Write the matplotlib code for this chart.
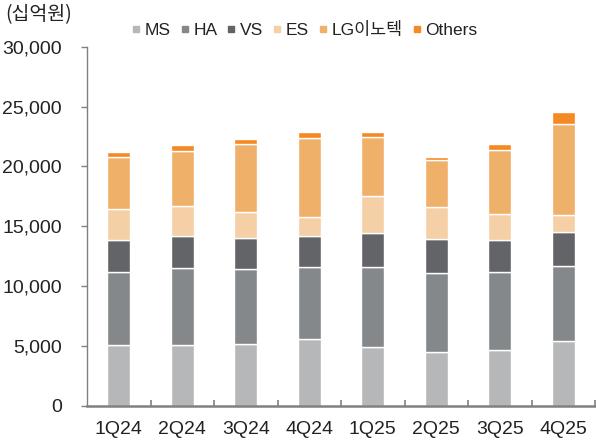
import matplotlib
matplotlib.use("Agg")
import matplotlib.pyplot as plt
from matplotlib.lines import Line2D
import numpy as np

plt.rcParams['font.family'] = ['Liberation Sans', 'Noto Sans CJK KR', 'DejaVu Sans']

categories = ["1Q24", "2Q24", "3Q24", "4Q24", "1Q25", "2Q25", "3Q25", "4Q25"]
series_names = ["MS", "HA", "VS", "ES", "LG이노텍", "Others"]
ms = [5060, 5060, 5120, 5590, 4920, 4480, 4650, 5400]
ha = [6100, 6410, 6270, 5990, 6690, 6600, 6545, 6295]
vs = [2680, 2700, 2590, 2620, 2840, 2840, 2650, 2790]
es = [2590, 2510, 2200, 1560, 3070, 2675, 2170, 1450]
lg_innotek = [4320, 4600, 5660, 6630, 4960, 3930, 5375, 7600]
others = [440, 530, 470, 480, 370, 250, 450, 980]
colors = ["#B6B7B9", "#85888A", "#626467", "#F5CFA5", "#EFB06A", "#F58A25"]
yticks = [0, 5000, 10000, 15000, 20000, 25000, 30000]

fig = plt.figure(figsize=(5.96, 4.44), dpi=100)
ax = fig.add_axes([87/596, 1-405.6/444, (595-87)/596, (405.6-46.7)/444])

x = np.arange(len(categories))
bottom = np.zeros(len(categories))
for vals, c, name in zip([ms, ha, vs, es, lg_innotek, others], colors, series_names):
    ax.bar(x, vals, width=0.37, bottom=bottom, color=c, edgecolor="white",
           linewidth=1.0, label=name, zorder=2)
    bottom += np.array(vals)

ax.set_xlim(-0.5, len(categories) - 0.5)
ax.set_ylim(0, 30000)
ax.set_yticks(yticks)
ax.set_yticklabels([f"{v:,}" for v in yticks], fontsize=14, color="#222222")
ax.set_xticks(x)
ax.set_xticklabels(categories, fontsize=14, color="#222222")
ax.set_xticks(np.arange(0.5, len(categories), 1.0), minor=True)
ax.tick_params(axis="x", which="major", length=0, pad=11)
ax.tick_params(axis="x", which="minor", direction="in", length=4, width=1.2, color="#808080")
ax.tick_params(axis="y", which="major", direction="out", length=4, width=1, color="#808080", pad=14)

for s in ["top", "right"]:
    ax.spines[s].set_visible(False)
ax.spines["left"].set_color("#808080")
ax.spines["left"].set_linewidth(1.0)
ax.spines["bottom"].set_color("#808080")
ax.spines["bottom"].set_linewidth(1.8)

handles = [Line2D([0], [0], marker="s", color="none", markerfacecolor=c,
                  markeredgecolor=c, markersize=4.5) for c in colors]
fig.legend(handles, series_names, loc="center", bbox_to_anchor=(305/596, 1-30/444),
           ncol=6, frameon=False, handlelength=0.4, handletextpad=0.3,
           columnspacing=0.6, prop={"family": ["Liberation Sans", "Noto Sans CJK KR"], "size": 12.5},
           labelcolor="#222222")

fig.text(5/596, 1-15/444, "(십억원)", fontsize=14, va="center", ha="left",
         family=["Noto Sans CJK KR", "Liberation Sans"], color="#222222")

fig.savefig("out.png", dpi=100)
